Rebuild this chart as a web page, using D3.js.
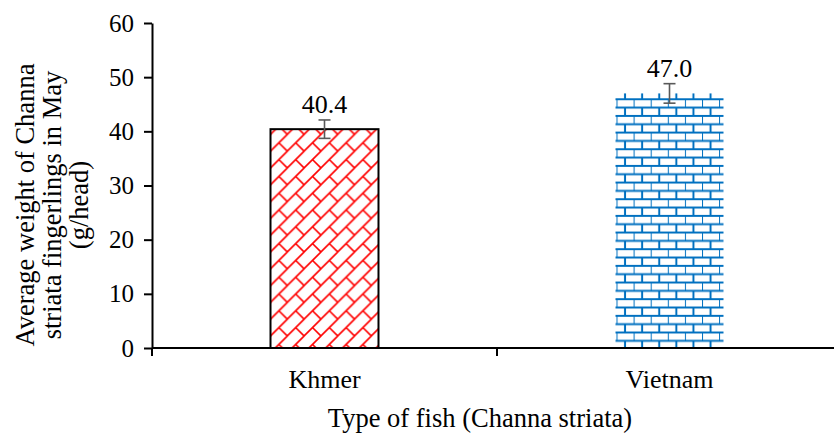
<!DOCTYPE html>
<html>
<head>
<meta charset="utf-8">
<script src="https://cdn.jsdelivr.net/npm/d3@7"></script>
<style>
  html, body { margin: 0; padding: 0; background: #fff; }
  svg { display: block; }
  text { font-family: "Liberation Serif", "Times New Roman", serif; fill: #000; }
</style>
</head>
<body>
<svg id="chart" width="834" height="439"></svg>
<script>
// data
const categories = ["Khmer", "Vietnam"];
const means = [40.4, 47.0];
const errors = [1.7, 1.8];
const yTicks = [0, 10, 20, 30, 40, 50, 60];
const yTitle = ["Average weight of Channa", "striata fingerlings in May", "(g/head)"];
const xTitle = "Type of fish (Channa striata)";

const width = 834, height = 439;
const margin = { left: 152, top: 23, bottom: 91 };
const svg = d3.select("#chart");

const x = d3
  .scaleBand()
  .domain(categories)
  .range([margin.left, 842])
  .paddingInner(0.687)
  .paddingOuter(0.687 / 2);

const y = d3
  .scaleLinear()
  .domain([0, 60])
  .range([height - margin.bottom, margin.top]);

// hatch patterns (excel style diagonal brick + horizontal brick)
const defs = svg.append("defs");
const s = 16.8;

defs
  .append("pattern")
  .attr("id", "diagBrick")
  .attr("patternUnits", "userSpaceOnUse")
  .attr("x", x("Khmer"))
  .attr("y", 0)
  .attr("width", s)
  .attr("height", s)
  .append("path")
  .attr("d", `M0,${s}L${s},0M${s / 2},${s / 2}L${s},${s}M-1,1L1,-1M${s - 1},${s + 1}L${s + 1},${s - 1}`)
  .attr("stroke", "#ff0000")
  .attr("stroke-width", 1.6)
  .attr("fill", "none");

const bw = 17.1, bh = 16.66;
defs
  .append("pattern")
  .attr("id", "hBrick")
  .attr("patternUnits", "userSpaceOnUse")
  .attr("x", 616.5)
  .attr("y", 82.6)
  .attr("width", bw)
  .attr("height", bh)
  .append("path")
  .attr("d", `M0,0H${bw}M0,${bh / 2}H${bw}M0,${bh}H${bw}M0,0V${bh / 2}M${bw / 2},${bh / 2}V${bh}`)
  .attr("stroke", "#0070c0")
  .attr("stroke-width", 2)
  .attr("fill", "none");

const fills = ["url(#diagBrick)", "url(#hBrick)"];
const outlines = ["#000", "none"];

// bars
svg
  .append("g")
  .selectAll("rect")
  .data(categories)
  .join("rect")
  .attr("x", (d) => x(d))
  .attr("y", (d, i) => y(means[i]))
  .attr("width", x.bandwidth())
  .attr("height", (d, i) => y(0) - y(means[i]))
  .attr("fill", (d, i) => fills[i])
  .attr("stroke", (d, i) => outlines[i])
  .attr("stroke-width", 2);

// error bars
const err = svg
  .append("g")
  .attr("stroke", "#595959")
  .attr("stroke-width", 1.6)
  .selectAll("g")
  .data(categories)
  .join("g")
  .attr("transform", (d) => "translate(" + (x(d) + x.bandwidth() / 2) + ",0)");

err
  .append("line")
  .attr("y1", (d, i) => y(means[i] + errors[i]))
  .attr("y2", (d, i) => y(means[i] - errors[i]));
err
  .append("line")
  .attr("x1", -6)
  .attr("x2", 6)
  .attr("y1", (d, i) => y(means[i] + errors[i]))
  .attr("y2", (d, i) => y(means[i] + errors[i]));
err
  .append("line")
  .attr("x1", -6)
  .attr("x2", 6)
  .attr("y1", (d, i) => y(means[i] - errors[i]))
  .attr("y2", (d, i) => y(means[i] - errors[i]));

// value labels
svg
  .append("g")
  .selectAll("text")
  .data(categories)
  .join("text")
  .attr("x", (d) => x(d) + x.bandwidth() / 2)
  .attr("y", (d, i) => y(means[i] + errors[i]) - 7)
  .attr("text-anchor", "middle")
  .style("font-size", "26px")
  .text((d, i) => means[i].toFixed(1));

// y axis
const yAxis = svg
  .append("g")
  .attr("transform", "translate(" + margin.left + ",0)")
  .call(d3.axisLeft(y).tickValues(yTicks).tickSize(8).tickPadding(10).tickSizeOuter(0));
yAxis.select(".domain").attr("stroke", "#000").attr("stroke-width", 2);
yAxis.selectAll(".tick line").attr("stroke", "#000").attr("stroke-width", 2);
yAxis
  .selectAll(".tick text")
  .style("font-size", "25px")
  .style("font-family", "Liberation Serif")
  .attr("fill", "#000");

// x axis with ticks on category boundaries
const step = x.step();
const bounds = categories.map((d) => x(d) - (step * x.paddingInner()) / 2);
const xg = svg.append("g").attr("transform", "translate(0," + y(0) + ")");
xg.append("line")
  .attr("x1", margin.left)
  .attr("x2", width)
  .attr("stroke", "#000")
  .attr("stroke-width", 2);
xg.selectAll(".bt")
  .data(bounds)
  .join("line")
  .attr("class", "bt")
  .attr("x1", (d) => d)
  .attr("x2", (d) => d)
  .attr("y1", 0)
  .attr("y2", 8)
  .attr("stroke", "#000")
  .attr("stroke-width", 2);
xg.selectAll("text")
  .data(categories)
  .join("text")
  .attr("x", (d) => x(d) + x.bandwidth() / 2)
  .attr("y", 40)
  .attr("text-anchor", "middle")
  .style("font-size", "26px")
  .text((d) => d);

// axis titles
svg
  .append("text")
  .attr("x", 480)
  .attr("y", 427)
  .attr("text-anchor", "middle")
  .style("font-size", "26.5px")
  .text(xTitle);

svg
  .append("text")
  .attr("transform", "translate(0,205) rotate(-90)")
  .attr("text-anchor", "middle")
  .style("font-size", "26.5px")
  .selectAll("tspan")
  .data(yTitle)
  .join("tspan")
  .attr("x", 0)
  .attr("y", (d, i) => 34 + i * 27)
  .text((d) => d);
</script>
</body>
</html>
